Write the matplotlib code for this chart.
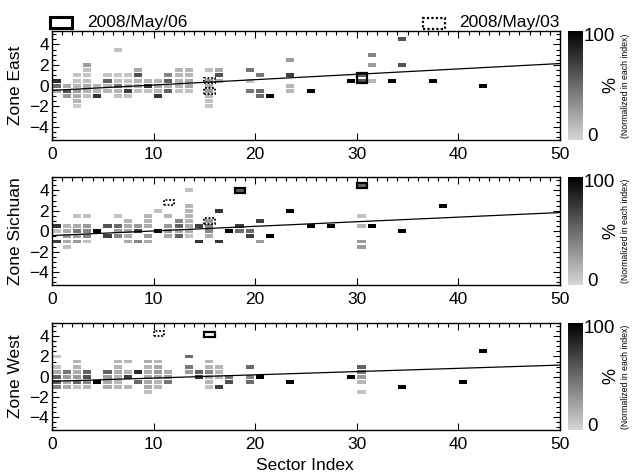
import numpy as np
import matplotlib
matplotlib.use('Agg')
import matplotlib.pyplot as plt
from matplotlib.colors import LinearSegmentedColormap, Normalize
from matplotlib.cm import ScalarMappable
from matplotlib.ticker import MultipleLocator

plt.rcParams['font.family'] = ['Liberation Sans', 'DejaVu Sans']

# cells per zone: (sector index, bin centre, % normalised within the sector)
east_cells = [
    (0, 0.5, 80), (0, 0, 50), (0, -0.5, 20),
    (1, 0, 20), (1, -0.5, 62), (1, -1, 28),
    (2, 1, 8), (2, 0.5, 10), (2, 0, 15), (2, -0.5, 28), (2, -1, 20), (2, -1.5, 15), (2, -2, 5),
    (3, 2, 28), (3, 1.5, 10), (3, 1, 8), (3, 0.5, 10), (3, 0, 20), (3, -0.5, 15), (3, -1, 10),
    (4, 0, 15), (4, -0.5, 15), (4, -1, 75),
    (5, 1, 8), (5, 0.5, 55), (5, 0, 15), (5, -0.5, 15),
    (6, 3.5, 10), (6, 1, 8), (6, 0.5, 10), (6, 0, 45), (6, -0.5, 15), (6, -1, 10),
    (7, 1, 8), (7, 0.5, 10), (7, 0, 15), (7, -0.5, 70), (7, -1, 10),
    (8, 1.5, 20), (8, 1, 62), (8, 0.5, 15), (8, 0, 15), (8, -0.5, 10),
    (9, 0.5, 15), (9, 0, 75), (9, -0.5, 10),
    (10, 0.5, 15), (10, 0, 20), (10, -0.5, 15), (10, -1, 75),
    (11, 1, 38), (11, 0.5, 55), (11, 0, 15), (11, -0.5, 55),
    (12, 1.5, 15), (12, 1, 15), (12, 0.5, 15), (12, 0, 15), (12, -0.5, 10),
    (13, 1.5, 15), (13, 1, 15), (13, 0.5, 20), (13, 0, 20), (13, -0.5, 10),
    (15, 1.5, 10), (15, 0.5, 28), (15, 0, 20), (15, -0.5, 28), (15, -1, 15), (15, -1.5, 10), (15, -2, 8),
    (16, 1.5, 20), (16, 1, 62), (16, 0.5, 20),
    (19, 1.5, 45), (19, 0.5, 10), (19, -0.5, 45),
    (20, 1, 45), (20, -0.5, 50), (20, -1, 50),
    (21, -1, 100),
    (23, 2.5, 28), (23, 1, 70), (23, 0, 15), (23, -0.5, 15),
    (25, -0.5, 100),
    (29, 0.5, 100),
    (30, 1, 55), (30, 0.5, 62),
    (31, 3, 38), (31, 2, 28), (31, 0.5, 15),
    (33, 0.5, 100),
    (34, 4.5, 62), (34, 2, 62),
    (37, 0.5, 100),
    (42, 0, 100),
]

sichuan_cells = [
    (0, 0.5, 75), (0, 0, 10), (0, -1, 70),
    (1, 0.5, 15), (1, 0, 20), (1, -0.5, 28), (1, -1, 20), (1, -1.5, 10),
    (2, 1.5, 10), (2, 0.5, 20), (2, 0, 45), (2, -0.5, 28), (2, -1, 28),
    (3, 1.5, 10), (3, 0.5, 28), (3, 0, 38), (3, -0.5, 38), (3, -1, 10),
    (4, 0, 100),
    (5, 0.5, 62), (5, -0.5, 70),
    (6, 1.5, 10), (6, 0.5, 50), (6, 0, 28), (6, -0.5, 38),
    (7, 1, 15), (7, 0.5, 20), (7, 0, 20), (7, -0.5, 20), (7, -1, 20),
    (8, 0.5, 28), (8, 0, 70), (8, -1, 38),
    (9, 1.5, 15), (9, 1, 15), (9, 0.5, 20), (9, -0.5, 28), (9, -1, 20),
    (10, 2, 10), (10, 0, 95),
    (11, 1.5, 15), (11, 0.5, 28), (11, 0, 28), (11, -0.5, 20),
    (12, 1, 38), (12, 0.5, 55), (12, 0, 20), (12, -0.5, 55),
    (13, 4, 10), (13, 2.5, 15), (13, 2, 15), (13, 1.5, 15), (13, 1, 15), (13, 0.5, 20), (13, 0, 20), (13, -0.5, 10),
    (14, 0.5, 70), (14, -1, 75),
    (15, 1, 28), (15, 0.5, 38), (15, 0, 38), (15, -0.5, 20),
    (16, 2, 75), (16, -1, 75),
    (17, 0, 100),
    (18, 4, 55), (18, 0.5, 70), (18, 0, 50),
    (19, 0, 50), (19, -0.5, 70),
    (20, 1, 70), (20, -1, 28),
    (21, -0.5, 100),
    (23, 2, 100),
    (25, 0.5, 100),
    (27, 0.5, 100),
    (30, 4.5, 50), (30, 1.5, 10), (30, 0.5, 15), (30, -1, 28), (30, -1.5, 28),
    (31, 0.5, 100),
    (34, 0, 100),
    (38, 2.5, 100),
]

west_cells = [
    (0, 2, 8), (0, 1, 10), (0, 0.5, 20), (0, 0, 55), (0, -0.5, 55), (0, -1, 38),
    (1, 0.5, 45), (1, 0, 28), (1, -0.5, 20), (1, -1, 20),
    (2, 1.5, 15), (2, 1, 15), (2, 0.5, 20), (2, 0, 28), (2, -0.5, 50), (2, -1, 10),
    (3, 0.5, 55), (3, 0, 62), (3, -0.5, 38), (3, -1, 15),
    (4, -0.5, 100),
    (5, 0.5, 55), (5, 0, 28), (5, -0.5, 20), (5, -1, 20),
    (6, 1.5, 15), (6, 1, 15), (6, 0.5, 20), (6, 0, 15), (6, -0.5, 15), (6, -1, 15),
    (7, 1.5, 15), (7, 0.5, 15), (7, 0, 70), (7, -1, 15),
    (8, 0.5, 80), (8, -0.5, 50),
    (9, 1.5, 20), (9, 1, 15), (9, 0.5, 20), (9, 0, 20), (9, -0.5, 20), (9, -1, 20), (9, -1.5, 10),
    (10, 1.5, 15), (10, 1, 20), (10, 0.5, 28), (10, 0, 20), (10, -0.5, 15), (10, -1, 15),
    (11, 0.5, 20), (11, 0, 28), (11, -0.5, 45),
    (13, 2, 50), (13, 1, 45), (13, 0.5, 28),
    (14, 0.5, 55), (14, 0, 75),
    (15, 1.5, 15), (15, 1, 15), (15, 0.5, 38), (15, 0, 20), (15, -0.5, 15), (15, -1, 10),
    (16, 1, 15), (16, 0.5, 15), (16, 0, 15), (16, -1, 70),
    (17, 0, 45), (17, -0.5, 62),
    (19, 1, 50), (19, 0, 38), (19, -0.5, 50),
    (20, 0, 100),
    (23, -0.5, 100),
    (29, 0, 100),
    (30, 1, 55), (30, 0.5, 45), (30, 0, 28), (30, -0.5, 15), (30, -1.5, 10),
    (34, -1, 100),
    (40, -0.5, 100),
    (42, 2.5, 100),
]

# highlighted events: (sector, y low, y high)
east_may06 = [(30, 0.25, 1.25)]
east_may03 = [(15, 0.25, 0.75), (15, -0.75, -0.25)]
sichuan_may06 = [(18, 3.75, 4.25), (30, 4.25, 4.75)]
sichuan_may03 = [(11, 2.6, 3.1), (15, 0.75, 1.25)]
west_may06 = [(15, 3.95, 4.45)]
west_may03 = [(10, 4.0, 4.5)]

# linear fit (intercept, slope) per zone
east_fit = (-0.45, 0.052)
sichuan_fit = (-0.42, 0.045)
west_fit = (-0.45, 0.032)

zones = ['Zone East', 'Zone Sichuan', 'Zone West']
cells = [east_cells, sichuan_cells, west_cells]
may06 = [east_may06, sichuan_may06, west_may06]
may03 = [east_may03, sichuan_may03, west_may03]
fits = [east_fit, sichuan_fit, west_fit]

cmap = LinearSegmentedColormap.from_list('grey', [(0.84, 0.84, 0.84), (0.0, 0.0, 0.0)])
norm = Normalize(0, 100)

W, H = 633, 475
fig = plt.figure(figsize=(W / 100, H / 100), dpi=100)

# panel boxes in pixels: (top, bottom)
panels = [(31, 140), (177, 285), (323, 430)]
left_px, right_px = 52, 560
cb_left, cb_right = 568, 583

for i, (top, bot) in enumerate(panels):
    ax = fig.add_axes([left_px / W, 1 - bot / H, (right_px - left_px) / W, (bot - top) / H])
    sec = np.array([c[0] for c in cells[i]])
    yv = np.array([c[1] for c in cells[i]])
    pct = np.array([c[2] for c in cells[i]])
    ax.bar(sec + 0.46, 0.38, bottom=yv - 0.19, width=0.8,
           color=cmap(norm(pct)), edgecolor='none', zorder=2)

    for s, lo, hi in may06[i]:
        ax.bar(s + 0.5, hi - lo, bottom=lo, width=1.0, fill=False,
               edgecolor='black', linewidth=1.6, zorder=4)
    for s, lo, hi in may03[i]:
        ax.bar(s + 0.5, hi - lo, bottom=lo, width=1.0, fill=False,
               edgecolor='black', linewidth=1.3, linestyle=(0, (1, 1)), zorder=4)

    b0, b1 = fits[i]
    xs = np.array([0, 50])
    ax.plot(xs, b0 + b1 * xs, color='black', linewidth=0.9, zorder=3)

    ax.set_xlim(0, 50)
    ax.set_ylim(-5.25, 5.3)
    ax.xaxis.set_major_locator(MultipleLocator(10))
    ax.xaxis.set_minor_locator(MultipleLocator(1))
    ax.yaxis.set_major_locator(MultipleLocator(2))
    ax.yaxis.set_minor_locator(MultipleLocator(0.5))
    ax.set_yticks([-4, -2, 0, 2, 4])
    ax.tick_params(which='both', direction='in', top=True, right=True,
                   labelsize=12.5, width=0.8)
    ax.tick_params(which='major', length=5)
    ax.tick_params(which='minor', length=3)
    ax.tick_params(axis='x', which='minor', bottom=False, top=True)
    ax.tick_params(axis='x', pad=5)
    ax.tick_params(axis='y', pad=2)
    for sp in ax.spines.values():
        sp.set_linewidth(1.0)
    ax.set_ylabel(zones[i], fontsize=12.5)
    ax.yaxis.set_label_coords(-0.058, 0.5)

    # colour bar beside each panel
    cax = fig.add_axes([cb_left / W, 1 - bot / H, (cb_right - cb_left) / W, (bot - top) / H])
    cb = fig.colorbar(ScalarMappable(norm=norm, cmap=cmap), cax=cax)
    cb.outline.set_visible(False)
    cax.set_yticks([])
    cax.text(1.05, 0.95, '100', transform=cax.transAxes, ha='left', va='center', fontsize=13.5)
    cax.text(1.25, 0.03, '0', transform=cax.transAxes, ha='left', va='center', fontsize=13.5)
    ymid = 1 - (top + bot) / 2 / H
    fig.text(611 / W, ymid, '%', rotation=90, ha='center', va='center', fontsize=13)
    fig.text(626 / W, ymid, '(Normalized in each index)', rotation=90,
             ha='center', va='center', fontsize=6.3)

# event key above the first panel
key_y = 1 - 22.5 / H
fig.patches.append(plt.Rectangle((50 / W, 1 - 28 / H), 22 / W, 11 / H, fill=False,
                                 edgecolor='black', linewidth=2.2, transform=fig.transFigure))
fig.text(87 / W, key_y, '2008/May/06', ha='left', va='center', fontsize=12.5)
fig.patches.append(plt.Rectangle((423 / W, 1 - 29 / H), 22 / W, 11 / H, fill=False,
                                 edgecolor='black', linewidth=1.6, linestyle=(0, (1, 1)),
                                 transform=fig.transFigure))
fig.text(560 / W, key_y, '2008/May/03', ha='right', va='center', fontsize=12.5)

fig.text(305 / W, 1 - 465 / H, 'Sector Index', ha='center', va='center', fontsize=12.5)

fig.savefig('out.png', dpi=100)
